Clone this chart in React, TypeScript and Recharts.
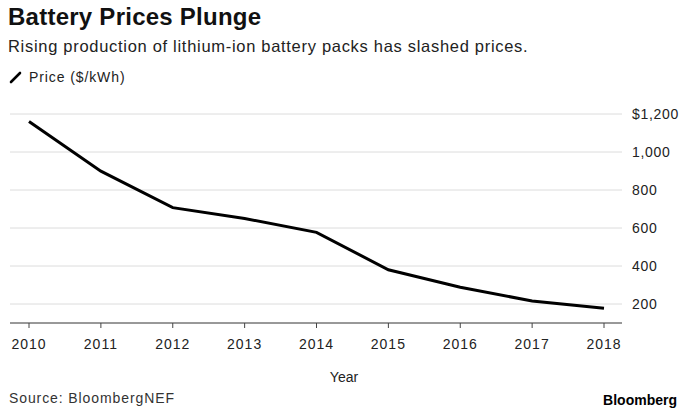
import React from "react";
import { LineChart, Line, XAxis, YAxis, CartesianGrid } from "recharts";

const years = ["2010", "2011", "2012", "2013", "2014", "2015", "2016", "2017", "2018"];
const prices = [1160, 899, 707, 650, 577, 380, 288, 216, 178];
const yTicks = [200, 400, 600, 800, 1000, 1200];

const data = years.map((y, i) => ({ year: y, price: prices[i] }));

const font = "'Liberation Sans', Arial, Helvetica, sans-serif";

const fmtY = (v: number) => (v === 1200 ? "$1,200" : v.toLocaleString("en-US"));

export default function App() {
  return (
    <div style={{ position: "absolute", left: 0, top: 0, width: 679, height: 410, background: "#fff", fontFamily: font, overflow: "hidden" }}>
      <div style={{ position: "absolute", left: 8, top: 3, fontSize: 24, fontWeight: 700, color: "#111", letterSpacing: 0.25, whiteSpace: "nowrap" }}>
        Battery Prices Plunge
      </div>
      <div style={{ position: "absolute", left: 8, top: 37, fontSize: 16.5, color: "#222", letterSpacing: 0.7, whiteSpace: "nowrap" }}>
        Rising production of lithium-ion battery packs has slashed prices.
      </div>
      <div style={{ position: "absolute", left: 9, top: 69, fontSize: 14, color: "#222", letterSpacing: 0.9, display: "flex", alignItems: "center", whiteSpace: "nowrap" }}>
        <svg width="14" height="14" style={{ marginRight: 6 }}>
          <line x1="2" y1="12" x2="11" y2="3" stroke="#000" strokeWidth="2.6" strokeLinecap="round" />
        </svg>
        Price ($/kWh)
      </div>
      <div style={{ position: "absolute", left: 0, top: 0 }}>
        <LineChart width={679} height={410} data={data} margin={{ top: 114, right: 0, bottom: 57, left: 10 }}>
          <CartesianGrid vertical={false} stroke="#dcdcdc" strokeWidth={1} />
          <XAxis
            dataKey="year"
            padding={{ left: 19, right: 18 }}
            axisLine={{ stroke: "#444", strokeWidth: 1.2 }}
            tickLine={{ stroke: "#444" }}
            tickSize={5}
            tickMargin={11}
            height={30}
            tick={{ fill: "#222", fontSize: 14, fontFamily: font, letterSpacing: 1 }}
            interval={0}
          />
          <YAxis
            orientation="right"
            domain={[100, 1200]}
            ticks={yTicks}
            tickFormatter={fmtY}
            axisLine={false}
            tickLine={false}
            tickSize={6}
            tickMargin={4}
            width={57}
            tick={{ fill: "#222", fontSize: 14, fontFamily: font, textAnchor: "start", letterSpacing: 0.7 }}
          />
          <Line type="linear" dataKey="price" stroke="#000" strokeWidth={3} dot={false} isAnimationActive={false} />
        </LineChart>
      </div>
      <div style={{ position: "absolute", left: 294, width: 100, top: 369, textAlign: "center", fontSize: 14, color: "#222" }}>
        Year
      </div>
      <div style={{ position: "absolute", left: 9, top: 390, fontSize: 14, color: "#333", letterSpacing: 0.9, whiteSpace: "nowrap" }}>
        Source: BloombergNEF
      </div>
      <div style={{ position: "absolute", right: 2, top: 392, fontSize: 14, fontWeight: 700, color: "#000", whiteSpace: "nowrap" }}>
        Bloomberg
      </div>
    </div>
  );
}
